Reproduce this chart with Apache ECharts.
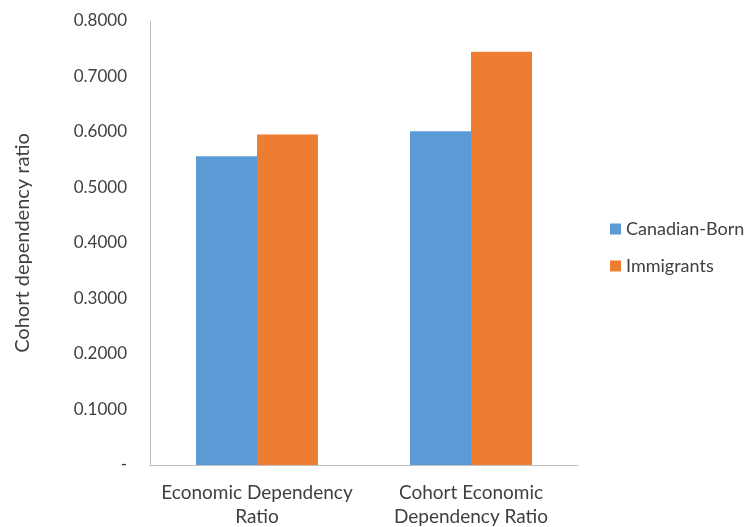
<!DOCTYPE html>
<html>
<head>
<meta charset="utf-8">
<script src="https://cdn.jsdelivr.net/npm/echarts@6/dist/echarts.min.js"></script>
<style>
  html, body { margin: 0; padding: 0; background: #fff; }
  #main { width: 745px; height: 527px; }
</style>
</head>
<body>
<div id="main"></div>
<script>
var categories = ["Economic Dependency\nRatio", "Cohort Economic\nDependency Ratio"];
var canadianBorn = [0.5565, 0.6015];
var immigrants = [0.5956, 0.7446];

var chart = echarts.init(document.getElementById("main"));

var option = {
  backgroundColor: "#fff",
  textStyle: { fontFamily: "Lato" },
  grid: { left: 150, right: 167, top: 21, bottom: 62, outerBoundsMode: "none", containLabel: false },
  legend: {
    orient: "vertical",
    left: 605,
    top: 215,
    itemWidth: 11,
    itemHeight: 11,
    itemGap: 19,
    icon: "rect",
    textStyle: { fontSize: 18, color: "#404040", fontFamily: "Lato" },
    data: ["Canadian-Born", "Immigrants"]
  },
  xAxis: {
    type: "category",
    data: categories,
    axisLine: { lineStyle: { color: "#bfbfbf", width: 1 } },
    axisTick: { show: false },
    axisLabel: { interval: 0, hideOverlap: false, color: "#404040", fontSize: 19, lineHeight: 24, margin: 16, fontFamily: "Lato" }
  },
  yAxis: {
    type: "value",
    min: 0,
    max: 0.8,
    interval: 0.1,
    name: "Cohort dependency ratio",
    nameLocation: "middle",
    nameGap: 117,
    nameTextStyle: { fontSize: 20, color: "#404040", fontFamily: "Lato" },
    axisLine: { show: true, lineStyle: { color: "#bfbfbf", width: 1 } },
    axisTick: { show: false },
    splitLine: { show: false },
    axisLabel: {
      color: "#404040",
      fontSize: 17,
      margin: 23,
      fontFamily: "Lato",
      formatter: function (v) { return v === 0 ? "-" : v.toFixed(4); }
    }
  },
  series: [
    {
      name: "Canadian-Born",
      type: "bar",
      data: canadianBorn,
      barGap: "0%",
      barCategoryGap: "43%",
      itemStyle: { color: "#5b9bd5" }
    },
    {
      name: "Immigrants",
      type: "bar",
      data: immigrants,
      itemStyle: { color: "#ed7d31" }
    }
  ]
};

chart.setOption(option);
</script>
</body>
</html>
